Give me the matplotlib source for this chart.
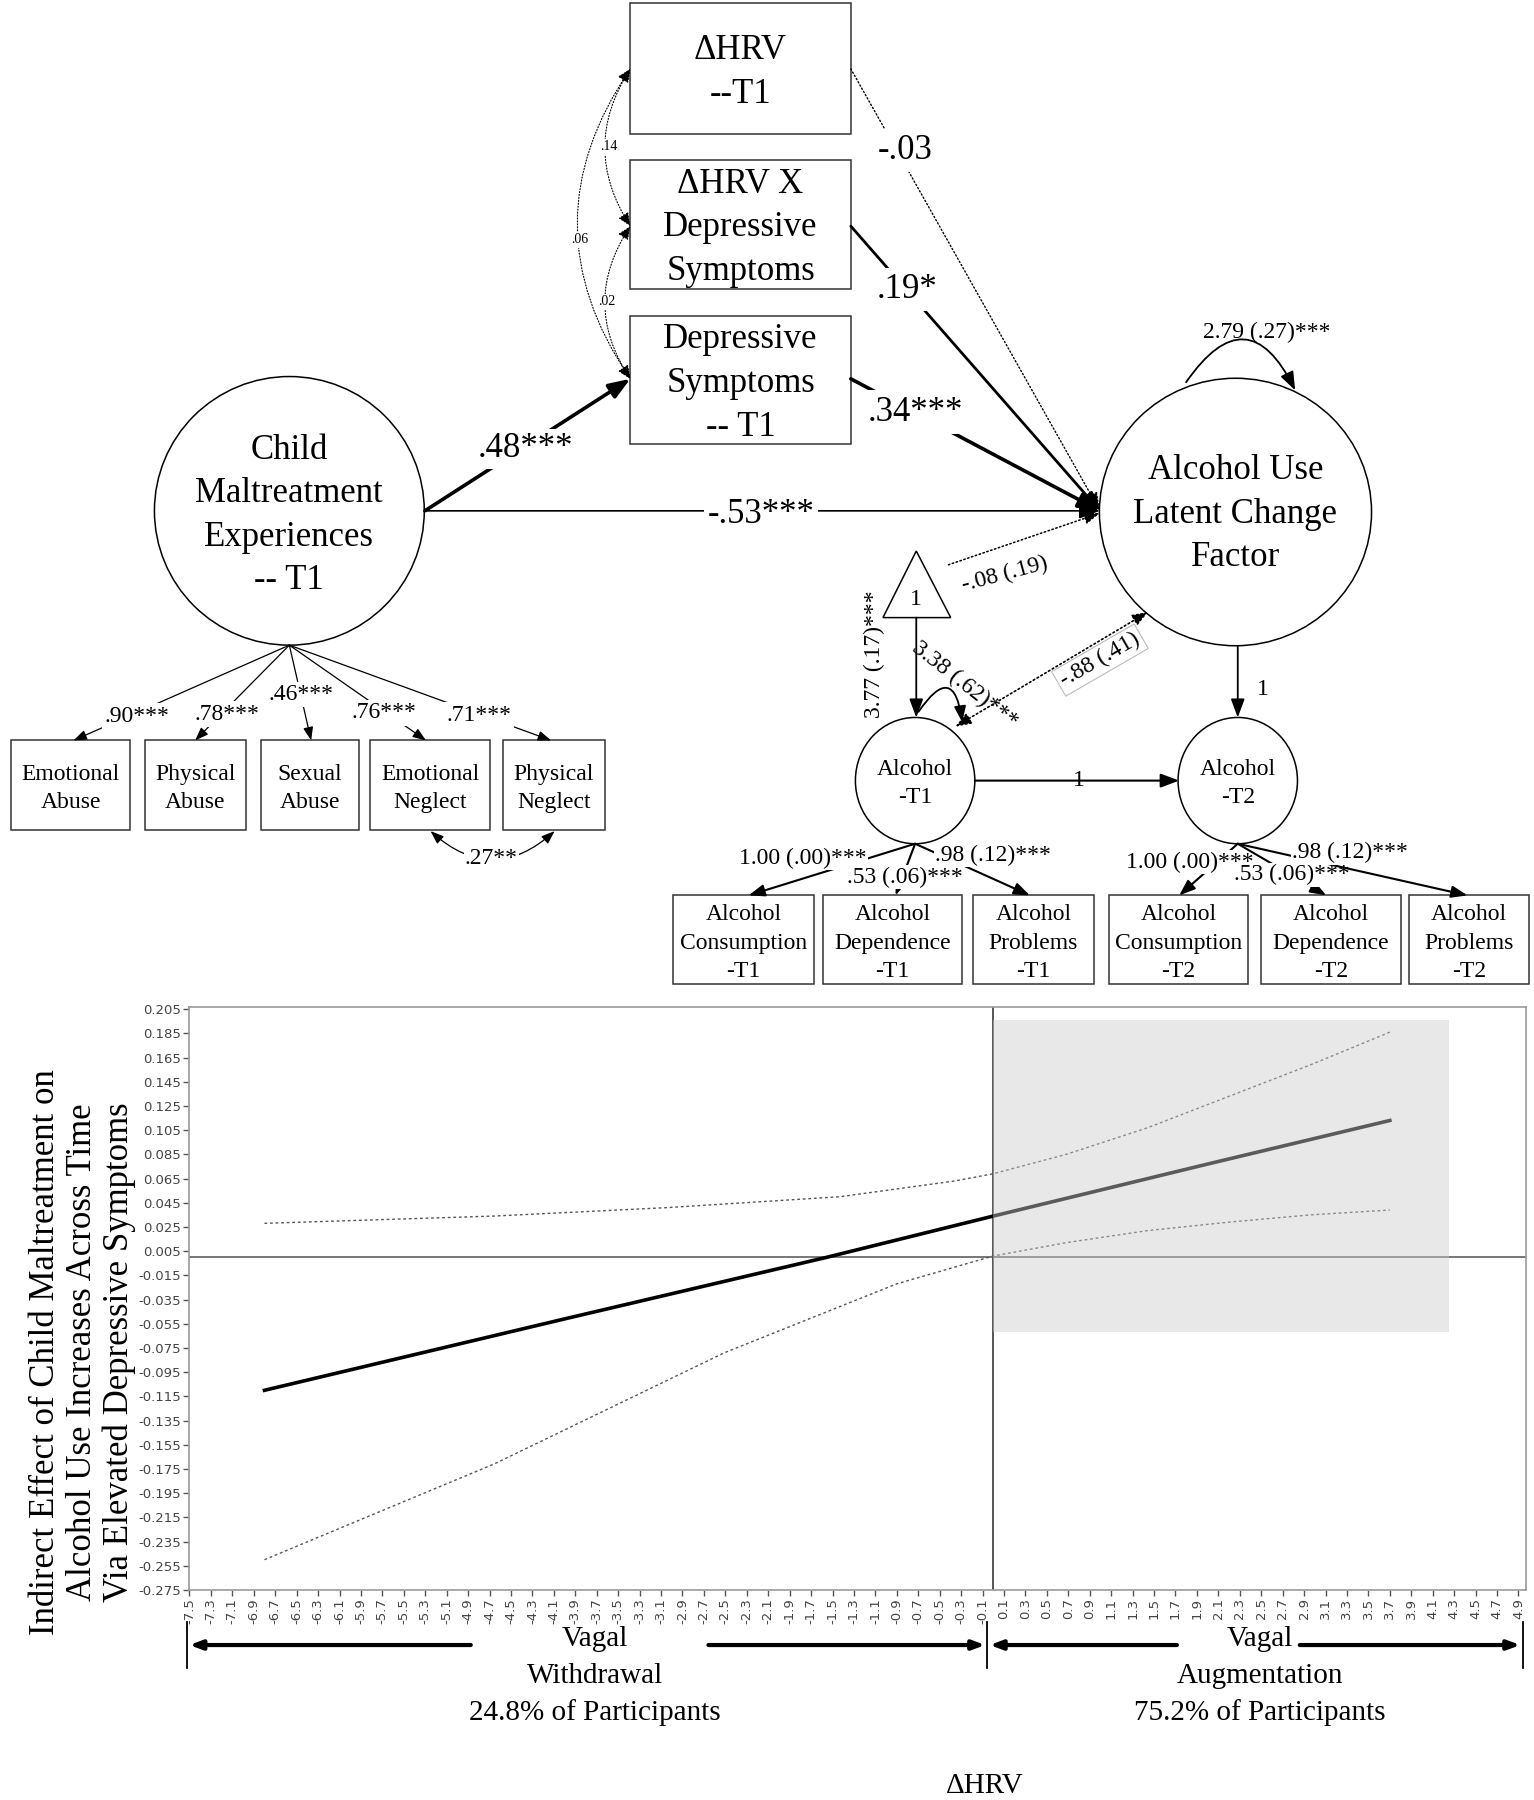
import numpy as np
import matplotlib
matplotlib.use('Agg')
import matplotlib.pyplot as plt
from matplotlib.patches import Rectangle, Ellipse, Polygon

plt.rcParams['font.family'] = 'Liberation Serif'

# conditional indirect effect across delta HRV
est_x = [-6.8, -4.0, -1.55, 0.0, 2.0, 3.7]
est_y = [-0.110, -0.051, 0.0, 0.034, 0.077, 0.113]
upper_x = [-6.8, -4.66, -3.04, -1.43, -0.36, 0.0, 0.68, 1.44, 2.2, 2.96, 3.7]
upper_y = [0.028, 0.034, 0.041, 0.050, 0.063, 0.069, 0.085, 0.107, 0.133, 0.159, 0.186]
lower_x = [-6.8, -4.66, -2.51, -0.9, 0.0, 0.68, 1.44, 2.2, 2.96, 3.7]
lower_y = [-0.250, -0.171, -0.079, -0.022, 0.001, 0.012, 0.022, 0.029, 0.035, 0.039]
region_x = [0.0, 4.25]
region_y = [-0.062, 0.196]
x_ticks = np.round(np.arange(-7.5, 4.95, 0.2), 1)
y_ticks = np.round(np.arange(-0.275, 0.21, 0.02), 3)

# path diagram labels
mid_boxes = [['ΔHRV', '--T1'], ['ΔHRV X', 'Depressive', 'Symptoms'],
             ['Depressive', 'Symptoms', '-- T1']]
cm_lines = ['Child', 'Maltreatment', 'Experiences', '-- T1']
alc_lines = ['Alcohol Use', 'Latent Change', 'Factor']
cm_indicators = [['Emotional', 'Abuse'], ['Physical', 'Abuse'], ['Sexual', 'Abuse'],
                 ['Emotional', 'Neglect'], ['Physical', 'Neglect']]
cm_loadings = ['.90***', '.78***', '.46***', '.76***', '.71***']
alc_indicators = [['Alcohol', 'Consumption', '-T1'], ['Alcohol', 'Dependence', '-T1'],
                  ['Alcohol', 'Problems', '-T1'], ['Alcohol', 'Consumption', '-T2'],
                  ['Alcohol', 'Dependence', '-T2'], ['Alcohol', 'Problems', '-T2']]
alc_loadings = ['1.00 (.00)***', '.53 (.06)***', '.98 (.12)***']
paths = ['.48***', '-.53***', '-.03', '.19*', '.34***']
covs = ['.14', '.02', '.06']

fig = plt.figure(figsize=(15.34, 18), dpi=100)
ax0 = fig.add_axes([0, 0, 1, 1])
ax0.set_xlim(0, 1336)
ax0.set_ylim(1568, 0)
ax0.axis('off')

BIG = 25
SMALL = 17
DY = 3  # small baseline nudge so text sits like the original


def box(x0, y0, x1, y1, lines, fs, pitch):
    ax0.add_patch(Rectangle((x0, y0), x1 - x0, y1 - y0, fill=False, lw=1.1, ec='#333'))
    cy = (y0 + y1) / 2 + DY
    n = len(lines)
    for i, t in enumerate(lines):
        ax0.text((x0 + x1) / 2, cy + (i - (n - 1) / 2) * pitch, t, fontsize=fs,
                 ha='center', va='center')


def arrow(p0, p1, lw=1.2, ls='-', style='-|>', rad=0.0, ms=14, head='0.8,0.3'):
    st = style + ',head_length=%s,head_width=%s' % tuple(head.split(',')) if style != '-' else '-'
    ax0.annotate('', xy=p1, xytext=p0,
                 arrowprops=dict(arrowstyle=st, color='k', lw=lw, linestyle=ls,
                                 shrinkA=0, shrinkB=0, mutation_scale=ms,
                                 connectionstyle='arc3,rad=%s' % rad))


def label(x, y, t, fs, rot=0, pad=0.5, ec='none'):
    ax0.text(x, y, t, fontsize=fs, ha='center', va='center', rotation=rot,
             bbox=dict(boxstyle='square,pad=%s' % pad, fc='white', ec=ec, lw=0.8))


# three middle boxes
mid_y = [(3, 117), (139, 252), (275, 387)]
for (y0, y1), lines in zip(mid_y, mid_boxes):
    box(549, y0, 741, y1, lines, BIG, 38)

# latent circles
ax0.add_patch(Ellipse((252, 445), 235, 234, fill=False, lw=1.1))
for i, t in enumerate(cm_lines):
    ax0.text(252, 389 + DY + i * 38, t, fontsize=BIG, ha='center', va='center')
ax0.add_patch(Ellipse((1076, 446), 237, 233, fill=False, lw=1.1))
for i, t in enumerate(alc_lines):
    ax0.text(1076, 407 + DY + i * 38, t, fontsize=BIG, ha='center', va='center')

# covariances among moderators
cov_pts = [((549, 60), (549, 197), 0.32, (530, 128)),
           ((549, 197), (549, 330), 0.33, (528, 263)),
           ((549, 60), (549, 330), 0.34, (505, 209))]
for (p0, p1, rad, lp), t in zip(cov_pts, covs):
    arrow(p0, p1, lw=0.8, ls=':', style='<|-|>', rad=rad, ms=10, head='0.8,0.35')
    ax0.text(lp[0], lp[1], t, fontsize=10, ha='center', va='center',
             bbox=dict(boxstyle='square,pad=0.1', fc='white', ec='none'))

# structural paths
arrow((370, 445), (549, 330), lw=2.6, ms=16)
label(458, 388 + DY, paths[0], BIG, pad=0.1)
arrow((370, 445), (958, 445), lw=1.2, ms=16)
label(663, 445 + DY, paths[1], BIG, pad=0.1)
arrow((741, 60), (958, 445), lw=1.0, ls=':', ms=14)
label(788, 128 + DY, paths[2], BIG, pad=0.15)
arrow((741, 197), (958, 445), lw=2.0, ms=14)
label(790, 249 + DY, paths[3], BIG, pad=0.15)
arrow((741, 330), (958, 445), lw=2.6, ms=16)
label(797, 356 + DY, paths[4], BIG, pad=0.15)

# self loop on latent change factor
arrow((1033, 333), (1128, 340), lw=1.3, style='-|>', rad=-0.85, ms=14)
ax0.text(1103, 287 + DY, '2.79 (.27)***', fontsize=SMALL, ha='center', va='center')

# intercept triangle
ax0.add_patch(Polygon([(798, 480), (769, 538), (828, 538)], closed=True, fill=False, lw=1.1))
ax0.text(798, 519 + DY, '1', fontsize=SMALL, ha='center', va='center')
arrow((826, 492), (958, 447), lw=1.1, ls=':', ms=12)
ax0.text(875, 500, '-.08 (.19)', fontsize=SMALL, ha='center', va='center', rotation=15)

# alcohol T1 / T2
for cx in (797, 1078):
    ax0.add_patch(Ellipse((cx, 680), 104, 110, fill=False, lw=1.1))
ax0.text(797, 667 + DY, 'Alcohol', fontsize=SMALL, ha='center', va='center')
ax0.text(797, 692 + DY, '-T1', fontsize=SMALL, ha='center', va='center')
ax0.text(1078, 667 + DY, 'Alcohol', fontsize=SMALL, ha='center', va='center')
ax0.text(1078, 692 + DY, '-T2', fontsize=SMALL, ha='center', va='center')

arrow((798, 538), (798, 625), lw=1.3, ms=14)
ax0.text(762, 570, '3.77 (.17)***', fontsize=SMALL, ha='center', va='center', rotation=90)
arrow((800, 620), (838, 629), lw=1.3, rad=-1.3, ms=12)
ax0.text(840, 597, '3.38 (.62)***', fontsize=SMALL, ha='center', va='center', rotation=-38)
arrow((832, 633), (1000, 533), lw=1.2, ls=':', style='<|-|>', ms=12)
label(958, 575, '-.88 (.41)', SMALL, rot=30, pad=0.15, ec='#bbbbbb')
arrow((1078, 563), (1078, 625), lw=1.3, ms=14)
ax0.text(1100, 601, '1', fontsize=SMALL, ha='center', va='center')
arrow((849, 680), (1027, 680), lw=1.5, ms=14)
ax0.text(940, 677 + DY, '1', fontsize=SMALL, ha='center', va='center')

# child maltreatment indicators
cm_box_x = [(10, 113), (126, 214), (227, 313), (322, 427), (438, 527)]
cm_tips = [(64, 645), (170, 645), (271, 645), (371, 645), (480, 645)]
cm_lab = [(119, 621), (198, 619), (262, 602), (334, 618), (417, 620)]
for (x0, x1), lines in zip(cm_box_x, cm_indicators):
    box(x0, 645, x1, 723, lines, SMALL, 25)
for tip, lp, t in zip(cm_tips, cm_lab, cm_loadings):
    arrow((252, 562), tip, lw=0.9, ms=10)
    label(lp[0], lp[1] + DY, t, SMALL, pad=0.1)
arrow((375, 724), (483, 724), lw=0.9, style='<|-|>', rad=0.45, ms=10)
label(428, 745 + DY, '.27**', SMALL, pad=0.05)

# alcohol indicators
alc_box_x = [(586, 709), (717, 838), (847, 953), (966, 1087), (1098, 1220), (1227, 1332)]
for (x0, x1), lines in zip(alc_box_x, alc_indicators):
    box(x0, 780, x1, 857, lines, SMALL, 25)
alc_tips = [[(652, 780), (780, 780), (897, 780)], [(1027, 780), (1155, 780), (1278, 780)]]
alc_lab = [[(699, 745), (788, 761), (865, 742)], [(1036, 748), (1125, 759), (1176, 740)]]
for src, tips, labs in zip([(797, 735), (1078, 735)], alc_tips, alc_lab):
    for tip, lp, t in zip(tips, labs, alc_loadings):
        arrow(src, tip, lw=1.5, ms=12)
        label(lp[0], lp[1] + DY, t, SMALL, pad=0.05)

# ---------- conditional indirect effect plot ----------
ax = fig.add_axes([165 / 1336, 1 - 1385 / 1568, (1329 - 165) / 1336, (1385 - 877) / 1568])
ax.plot(est_x, est_y, color='k', lw=2.6, zorder=3)
ax.plot(upper_x, upper_y, color='#555555', lw=1.0, ls=(0, (2, 2)), zorder=3)
ax.plot(lower_x, lower_y, color='#555555', lw=1.0, ls=(0, (2, 2)), zorder=3)
ax.axhline(0, color='#777777', lw=1.4, zorder=2)
ax.axvline(0, color='#555555', lw=1.4, zorder=2)
ax.add_patch(Rectangle((region_x[0], region_y[0]), region_x[1] - region_x[0],
                       region_y[1] - region_y[0], fc='#cccccc', ec='none',
                       alpha=0.45, zorder=4))
ax.set_xlim(-7.5, 4.97)
ax.set_ylim(-0.275, 0.207)
ax.set_xticks(x_ticks)
ax.set_xticklabels(['%.1f' % v for v in x_ticks], rotation=90, family='DejaVu Sans',
                   fontsize=9.5, color='#444444')
ax.set_yticks(y_ticks)
ax.set_yticklabels(['%.3f' % v for v in y_ticks], family='DejaVu Sans',
                   fontsize=9.5, color='#444444')
ax.tick_params(length=4, width=1, color='#555555', pad=2)
for s in ax.spines.values():
    s.set_color('#999999')
    s.set_linewidth(1.2)

fig.text(72 / 1336, 1 - 1178 / 1568,
         'Indirect Effect of Child Maltreatment on\nAlcohol Use Increases Across Time\n'
         'Via Elevated Depressive Symptoms', rotation=90, ha='center', va='center',
         fontsize=25, linespacing=1.15)

# withdrawal / augmentation brackets
for bx in (163, 860, 1326):
    ax0.plot([bx, bx], [1413, 1453], color='k', lw=1.3)
for p0, p1 in [((410, 1433), (165, 1433)), ((617, 1433), (858, 1433)),
               ((1025, 1433), (862, 1433)), ((1132, 1433), (1324, 1433))]:
    arrow(p0, p1, lw=3.0, ms=9)
for cx, lines in [(518, ['Vagal', 'Withdrawal', '24.8% of Participants']),
                  (1097, ['Vagal', 'Augmentation', '75.2% of Participants'])]:
    for i, t in enumerate(lines):
        ax0.text(cx, 1425 + DY + i * 32, t, fontsize=21, ha='center', va='center')
ax0.text(858, 1553 + DY, 'ΔHRV', fontsize=21, ha='center', va='center')

fig.savefig('out.png', dpi=100)
